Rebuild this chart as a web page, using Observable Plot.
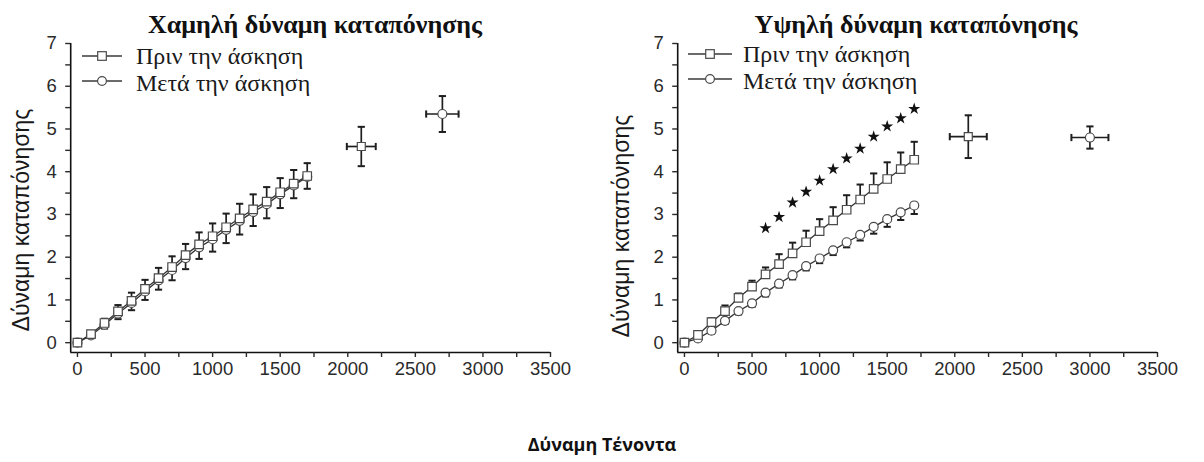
<!DOCTYPE html>
<html>
<head>
<meta charset="utf-8">
<script src="https://cdn.jsdelivr.net/npm/d3@7"></script>
<script src="https://cdn.jsdelivr.net/npm/@observablehq/plot@0.6"></script>
<style>
  body { margin: 0; background: #fff; }
  #wrap { position: relative; width: 1204px; height: 462px; overflow: hidden; background: #fff; }
  .panel { position: absolute; top: 0; }
  #notes { position: absolute; left: 0; top: 0; pointer-events: none; }
</style>
</head>
<body>
<div id="wrap">
  <div class="panel" id="low" style="left:0"></div>
  <div class="panel" id="high" style="left:602px"></div>
</div>
<script>
// Tendon force steps shared by both protocols
const force = [0, 100, 200, 300, 400, 500, 600, 700, 800, 900, 1000, 1100, 1200, 1300, 1400, 1500, 1600, 1700];

// Low strain protocol
const lowPre      = [0, 0.20, 0.46, 0.73, 0.98, 1.26, 1.51, 1.77, 2.05, 2.30, 2.49, 2.70, 2.91, 3.12, 3.30, 3.52, 3.72, 3.90];
const lowPreErr   = [0, 0.06, 0.10, 0.15, 0.19, 0.21, 0.24, 0.25, 0.26, 0.28, 0.30, 0.32, 0.34, 0.35, 0.34, 0.33, 0.32, 0.30];
const lowPost     = [0, 0.17, 0.42, 0.68, 0.93, 1.20, 1.46, 1.70, 1.98, 2.23, 2.42, 2.64, 2.85, 3.06, 3.24, 3.47, 3.68, 3.88];
const lowPostErr  = [0, 0.05, 0.09, 0.13, 0.17, 0.20, 0.22, 0.24, 0.26, 0.27, 0.29, 0.31, 0.32, 0.33, 0.33, 0.32, 0.30, 0.28];
// Maximal points (mean ± SD on both axes)
const lowMaxForce  = [2100, 2700];
const lowMaxValue  = [4.59, 5.35];
const lowMaxYErr   = [0.46, 0.42];
const lowMaxXErr   = [107, 120];
const lowMaxSeries = ["pre", "post"];

// High strain protocol
const highPre     = [0, 0.18, 0.48, 0.74, 1.05, 1.31, 1.60, 1.84, 2.09, 2.35, 2.61, 2.86, 3.11, 3.35, 3.60, 3.83, 4.06, 4.28];
const highPreErr  = [0, 0.08, 0.09, 0.13, 0.10, 0.14, 0.16, 0.23, 0.25, 0.27, 0.28, 0.31, 0.34, 0.35, 0.36, 0.39, 0.39, 0.42];
const highPost    = [0, 0.10, 0.28, 0.51, 0.74, 0.92, 1.17, 1.38, 1.58, 1.79, 1.97, 2.16, 2.35, 2.52, 2.71, 2.89, 3.05, 3.21];
const highPostErr = [0, 0.06, 0.07, 0.07, 0.08, 0.08, 0.09, 0.09, 0.10, 0.10, 0.11, 0.11, 0.12, 0.13, 0.16, 0.18, 0.18, 0.20];
const highMaxForce  = [2100, 3000];
const highMaxValue  = [4.82, 4.80];
const highMaxYErr   = [0.50, 0.26];
const highMaxXErr   = [137, 137];
const highMaxSeries = ["pre", "post"];
// Significance markers (pre vs post)
const starForce = [600, 700, 800, 900, 1000, 1100, 1200, 1300, 1400, 1500, 1600, 1700];
const starLevel = [2.68, 2.94, 3.28, 3.53, 3.79, 4.06, 4.31, 4.54, 4.82, 5.06, 5.25, 5.47];

// Text
const titles = ["Χαμηλή δύναμη καταπόνησης", "Υψηλή δύναμη καταπόνησης"];
const seriesNames = ["Πριν την άσκηση", "Μετά την άσκηση"];
const yTitle = "Δύναμη καταπόνησης";
const xTitle = "Δύναμη Τένοντα";
const xTicks = [0, 250, 500, 750, 1000, 1250, 1500, 1750, 2000, 2250, 2500, 2750, 3000, 3250, 3500];
const yTicks = [0, 0.5, 1, 1.5, 2, 2.5, 3, 3.5, 4, 4.5, 5, 5.5, 6, 6.5, 7];

// Stroke-only cap symbols for the error bars
const hCap = { draw(ctx, size) { const r = Math.sqrt(size / Math.PI); ctx.moveTo(-r, 0); ctx.lineTo(r, 0); } };
const vCap = { draw(ctx, size) { const r = Math.sqrt(size / Math.PI); ctx.moveTo(0, -r); ctx.lineTo(0, r); } };

const INK = "#1e1e1e";

function rows(values, errs, series) {
  return force.map((f, i) => ({ force: f, value: values[i], err: errs[i], series }));
}

function panel({ pre, preErr, post, postErr, maxF, maxV, maxYE, maxXE, maxS, stars, marginLeft, marginRight }) {
  const preRows = rows(pre, preErr, "pre");
  const postRows = rows(post, postErr, "post");
  const maxRows = maxF.map((f, i) => ({ force: f, value: maxV[i], ye: maxYE[i], xe: maxXE[i], series: maxS[i] }));
  const barStyle = { stroke: INK, strokeWidth: 1.7 };
  const capStyle = { r: 3.6, fill: "none", stroke: INK, strokeWidth: 2 };

  const marks = [
    // frame lines
    Plot.ruleY([-0.23], { stroke: "#111", strokeWidth: 1.6 }),
    Plot.ruleX([-50], { stroke: "#111", strokeWidth: 1.6 }),
    Plot.axisX(xTicks, { tickSize: 5, tickPadding: 4, label: null, fontSize: 18.5, color: "#2a2a2a", strokeWidth: 1.4,
      tickFormat: d => d % 500 === 0 ? String(d) : "" }),
    Plot.axisY(yTicks, { tickSize: 5, tickPadding: 9, label: null, fontSize: 18.5, color: "#2a2a2a", strokeWidth: 1.4,
      tickFormat: d => Number.isInteger(d) ? String(d) : "" }),

    // pre: error bars upward
    Plot.ruleX(preRows.filter(d => d.err > 0), { x: "force", y1: "value", y2: d => d.value + d.err, ...barStyle }),
    Plot.dot(preRows.filter(d => d.err > 0), { x: "force", y: d => d.value + d.err, symbol: hCap, ...capStyle }),
    // post: error bars downward
    Plot.ruleX(postRows.filter(d => d.err > 0), { x: "force", y1: "value", y2: d => d.value - d.err, ...barStyle }),
    Plot.dot(postRows.filter(d => d.err > 0), { x: "force", y: d => d.value - d.err, symbol: hCap, ...capStyle }),

    // connecting lines
    Plot.line(preRows, { x: "force", y: "value", stroke: "#333", strokeWidth: 1.3 }),
    Plot.line(postRows, { x: "force", y: "value", stroke: "#333", strokeWidth: 1.3 }),

    // markers
    Plot.dot(postRows, { x: "force", y: "value", symbol: "circle", r: 4.5, fill: "white", stroke: "#4a4a4a", strokeWidth: 1.2 }),
    Plot.dot(preRows, { x: "force", y: "value", symbol: "square", r: 4.8, fill: "white", stroke: "#4a4a4a", strokeWidth: 1.2 }),

    // maximal points with two-way error bars
    Plot.ruleX(maxRows, { x: "force", y1: d => d.value - d.ye, y2: d => d.value + d.ye, ...barStyle }),
    Plot.ruleY(maxRows, { y: "value", x1: d => d.force - d.xe, x2: d => d.force + d.xe, ...barStyle }),
    Plot.dot(maxRows, { x: "force", y: d => d.value + d.ye, symbol: hCap, ...capStyle }),
    Plot.dot(maxRows, { x: "force", y: d => d.value - d.ye, symbol: hCap, ...capStyle }),
    Plot.dot(maxRows, { x: d => d.force - d.xe, y: "value", symbol: vCap, ...capStyle }),
    Plot.dot(maxRows, { x: d => d.force + d.xe, y: "value", symbol: vCap, ...capStyle }),
    Plot.dot(maxRows, { x: "force", y: "value", symbol: d => d.series === "pre" ? "square" : "circle",
      r: 4.5, fill: "white", stroke: "#4a4a4a", strokeWidth: 1.2 })
  ];

  if (stars) {
    marks.push(Plot.dot(starForce.map((f, i) => ({ force: f, level: starLevel[i] })),
      { x: "force", y: "level", symbol: "star", r: 3.8, fill: "#111" }));
  }

  return Plot.plot({
    width: 602,
    height: 462,
    marginLeft,
    marginRight,
    marginTop: 43,
    marginBottom: 110,
    x: { domain: [-50, 3500] },
    y: { domain: [-0.23, 7] },
    symbol: { type: "identity" },
    style: { fontFamily: "'Liberation Sans', Arial, sans-serif", fontSize: "18px", background: "transparent", overflow: "visible" },
    marks
  });
}

document.getElementById("low").append(panel({
  pre: lowPre, preErr: lowPreErr, post: lowPost, postErr: lowPostErr,
  maxF: lowMaxForce, maxV: lowMaxValue, maxYE: lowMaxYErr, maxXE: lowMaxXErr, maxS: lowMaxSeries,
  stars: false, marginLeft: 70.2, marginRight: 52
}));
document.getElementById("high").append(panel({
  pre: highPre, preErr: highPreErr, post: highPost, postErr: highPostErr,
  maxF: highMaxForce, maxV: highMaxValue, maxYE: highMaxYErr, maxXE: highMaxXErr, maxS: highMaxSeries,
  stars: true, marginLeft: 75.2, marginRight: 47
}));

// Titles, legends and axis titles as an overlay
const notes = d3.select("#wrap").append("svg").attr("id", "notes").attr("width", 1204).attr("height", 462);

const panels = [
  { titleX: 315, legX0: 82, legX1: 122, textX: 136, rowsY: [56, 81], textY: [64, 91], yTitleX: 21, yTitleY: 220 },
  { titleX: 916, legX0: 688, legX1: 732, textX: 743, rowsY: [54, 79], textY: [62, 89], yTitleX: 621, yTitleY: 226 }
];

panels.forEach((p, k) => {
  notes.append("text").attr("x", p.titleX).attr("y", 33).attr("text-anchor", "middle")
    .style("font-family", "'Liberation Serif', 'Times New Roman', serif").style("font-weight", "bold")
    .style("font-size", "26px").attr("fill", "#111").text(titles[k]);

  seriesNames.forEach((name, i) => {
    const y = p.rowsY[i];
    const cx = (p.legX0 + p.legX1) / 2;
    notes.append("line").attr("x1", p.legX0).attr("x2", p.legX1).attr("y1", y).attr("y2", y)
      .attr("stroke", "#3a3a3a").attr("stroke-width", 1.4);
    if (i === 0) {
      notes.append("rect").attr("x", cx - 4.3).attr("y", y - 4.3).attr("width", 8.6).attr("height", 8.6)
        .attr("fill", "white").attr("stroke", "#4a4a4a").attr("stroke-width", 1.2);
    } else {
      notes.append("circle").attr("cx", cx).attr("cy", y).attr("r", 4.4)
        .attr("fill", "white").attr("stroke", "#4a4a4a").attr("stroke-width", 1.2);
    }
    notes.append("text").attr("x", p.textX).attr("y", p.textY[i])
      .style("font-family", "'Liberation Serif', 'Times New Roman', serif").style("font-size", "24px")
      .attr("fill", "#1a1a1a").text(name);
  });

  notes.append("text")
    .attr("transform", `translate(${p.yTitleX},${p.yTitleY}) rotate(-90)`)
    .attr("text-anchor", "middle").attr("dominant-baseline", "central")
    .style("font-family", "'Liberation Sans', Arial, sans-serif").style("font-size", "23px")
    .attr("fill", "#1a1a1a").text(yTitle);
});

notes.append("text").attr("x", 602).attr("y", 451).attr("text-anchor", "middle")
  .style("font-family", "'Open Sans', 'Noto Sans', sans-serif").style("font-weight", "bold")
  .style("font-size", "18px").attr("fill", "#111").text(xTitle);
</script>
</body>
</html>
